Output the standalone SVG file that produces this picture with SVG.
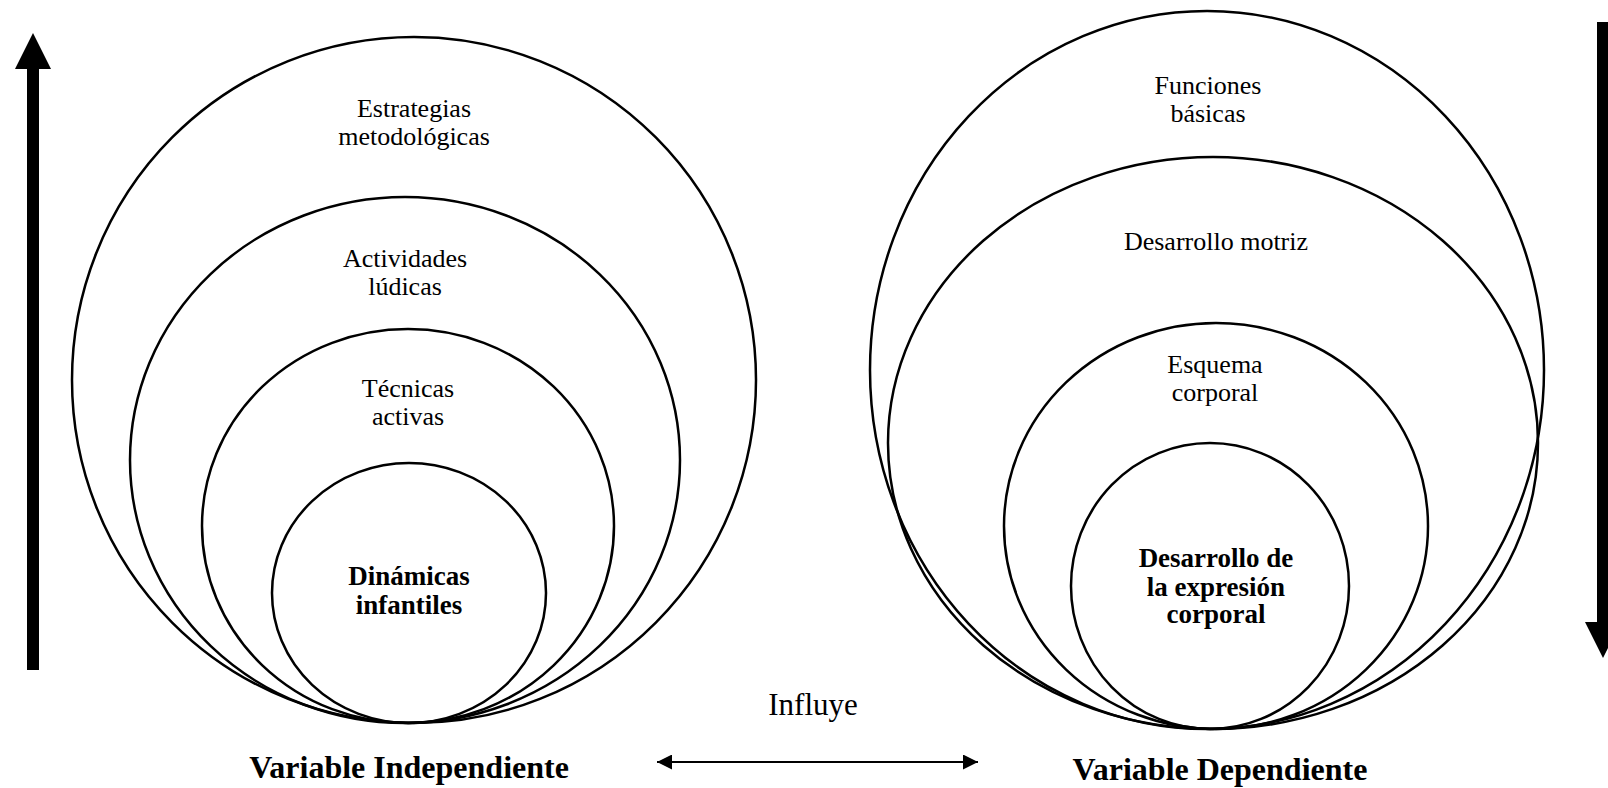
<svg xmlns="http://www.w3.org/2000/svg" width="1608" height="788" viewBox="0 0 1608 788">
<defs>
<style>
.c{fill:none;stroke:#000;stroke-width:2.5}
.t{font-family:"Liberation Serif","Times New Roman",serif;font-size:26px;text-anchor:middle;fill:#000}
.b{font-weight:bold;font-size:27px}
.big{font-size:31px}
.bb{font-weight:bold;font-size:32px}
</style>
<marker id="ah" viewBox="0 0 10 10" refX="10" refY="5" markerWidth="7.5" markerHeight="7.5" orient="auto-start-reverse" markerUnits="strokeWidth">
<path d="M0,0 L10,5 L0,10 Z" fill="#000"/>
</marker>
</defs>
<rect width="1608" height="788" fill="#fff"/>
<g id="left-outer"><ellipse class="c" cx="414" cy="380" rx="342" ry="343"/><text class="t" x="414" y="117">Estrategias</text><text class="t" x="414" y="145">metodológicas</text></g>
<g id="left-2"><ellipse class="c" cx="405" cy="460" rx="275" ry="263"/><text class="t" x="405" y="267">Actividades</text><text class="t" x="405" y="295">lúdicas</text></g>
<g id="left-3"><ellipse class="c" cx="408" cy="526" rx="206" ry="197"/><text class="t" x="408" y="397">Técnicas</text><text class="t" x="408" y="425">activas</text></g>
<g id="left-inner"><ellipse class="c" cx="409" cy="593" rx="137" ry="130"/><text class="t b" x="409" y="585">Dinámicas</text><text class="t b" x="409" y="614">infantiles</text></g>
<g id="right-outer"><ellipse class="c" cx="1207" cy="370" rx="337" ry="359"/><text class="t" x="1208" y="94">Funciones</text><text class="t" x="1208" y="122">básicas</text></g>
<g id="right-2"><ellipse class="c" cx="1213" cy="443" rx="325" ry="286"/><text class="t" x="1216" y="250">Desarrollo motriz</text></g>
<g id="right-3"><ellipse class="c" cx="1216" cy="526" rx="212" ry="203"/><text class="t" x="1215" y="373">Esquema</text><text class="t" x="1215" y="401">corporal</text></g>
<g id="right-inner"><ellipse class="c" cx="1210" cy="586" rx="139" ry="143"/><text class="t b" x="1216" y="567">Desarrollo de</text><text class="t b" x="1216" y="596">la expresión</text><text class="t b" x="1216" y="623">corporal</text></g>
<g id="connectors">
<path d="M27,670 L39,670 L39,69 L51,69 L33,33 L15,69 L27,69 Z" fill="#000"/>
<path d="M1597,22 L1609,22 L1609,622 L1621,622 L1603,658 L1585,622 L1597,622 Z" fill="#000"/>
<line x1="657" y1="762" x2="978" y2="762" stroke="#000" stroke-width="2" marker-start="url(#ah)" marker-end="url(#ah)"/>
</g>
<g id="labels">
<text class="t big" x="813" y="715">Influye</text>
<text class="t bb" x="409" y="778">Variable Independiente</text>
<text class="t bb" x="1220" y="780">Variable Dependiente</text>
</g>
</svg>
